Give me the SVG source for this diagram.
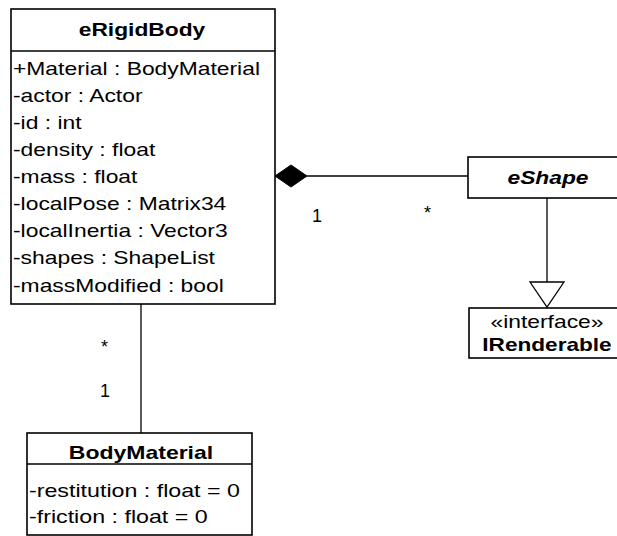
<svg xmlns="http://www.w3.org/2000/svg" width="617" height="536" viewBox="0 0 617 536">
  <style>
    .box { fill: #ffffff; stroke: #000000; stroke-width: 1.6; }
    .sep { stroke: #000000; stroke-width: 1.4; }
    .edge { fill: none; stroke: #000000; stroke-width: 1.3; }
    text { font-family: "Liberation Sans", Arial, sans-serif; fill: #000000; }
    .title { font-size: 19px; font-weight: bold; text-anchor: middle; }
    .attr { font-size: 18px; }
    .mult { font-size: 18px; }
  </style>
  <rect width="617" height="536" fill="#ffffff"/>

  <g id="connectors">
    <!-- composition: eRigidBody owns eShape -->
    <line class="edge" x1="307" y1="176" x2="468" y2="176"/>
    <polygon points="275,176 291,165 307,176 291,187" fill="#000000" stroke="#000000" stroke-width="1"/>
    <text class="mult" x="312" y="222">1</text>
    <text class="mult" x="424" y="219">*</text>
    <!-- realization: eShape implements IRenderable -->
    <line class="edge" x1="547" y1="198" x2="547" y2="282"/>
    <polygon points="530,282 564,282 547,307" fill="#ffffff" stroke="#000000" stroke-width="1.3"/>
    <!-- association: eRigidBody to BodyMaterial -->
    <line class="edge" x1="141" y1="304" x2="141" y2="433"/>
    <text class="mult" x="101" y="353">*</text>
    <text class="mult" x="100" y="397">1</text>
  </g>

  <g id="eRigidBody">
    <rect class="box" x="11" y="9" width="264" height="295"/>
    <line class="sep" x1="11" y1="51" x2="275" y2="51"/>
    <g transform="translate(142 0) scale(1.2 1)">
      <text class="title" x="0" y="36">eRigidBody</text>
    </g>
    <g transform="translate(13 0) scale(1.27 1)">
      <text class="attr" x="0" y="75">+Material : BodyMaterial</text>
      <text class="attr" x="0" y="102">-actor : Actor</text>
      <text class="attr" x="0" y="129">-id : int</text>
      <text class="attr" x="0" y="156">-density : float</text>
      <text class="attr" x="0" y="183">-mass : float</text>
      <text class="attr" x="0" y="210">-localPose : Matrix34</text>
      <text class="attr" x="0" y="237">-localInertia : Vector3</text>
      <text class="attr" x="0" y="264">-shapes : ShapeList</text>
      <text class="attr" x="0" y="292">-massModified : bool</text>
    </g>
  </g>

  <g id="eShape">
    <rect class="box" x="468" y="157" width="158" height="41"/>
    <g transform="translate(548 0) scale(1.2 1)">
      <text class="title" x="0" y="184" font-style="italic">eShape</text>
    </g>
  </g>

  <g id="IRenderable">
    <rect class="box" x="469" y="308" width="157" height="50"/>
    <g transform="translate(547 0) scale(1.27 1)">
      <text class="attr" x="0" y="328" text-anchor="middle">«interface»</text>
    </g>
    <g transform="translate(547 0) scale(1.19 1)">
      <text class="title" x="0" y="351">IRenderable</text>
    </g>
  </g>

  <g id="BodyMaterial">
    <rect class="box" x="27" y="433" width="225" height="102"/>
    <line class="sep" x1="27" y1="464" x2="252" y2="464"/>
    <g transform="translate(141 0) scale(1.21 1)">
      <text class="title" x="0" y="459">BodyMaterial</text>
    </g>
    <g transform="translate(29 0) scale(1.29 1)">
      <text class="attr" x="0" y="497">-restitution : float = 0</text>
      <text class="attr" x="0" y="523">-friction : float = 0</text>
    </g>
  </g>
</svg>
